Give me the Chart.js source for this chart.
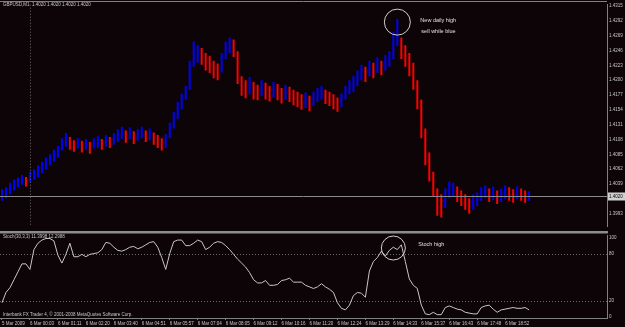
<!DOCTYPE html>
<html>
<head>
<meta charset="utf-8">
<script src="https://cdn.jsdelivr.net/npm/chart.js@4"></script>
<style>
  body { margin: 0; background: #0c0406; }
  #wrap { position: relative; width: 625px; height: 327px; }
  canvas { position: absolute; left: 0; }
</style>
</head>
<body>
<div id="wrap">
  <canvas id="precio" width="625" height="231" style="top:0"></canvas>
  <canvas id="stoch" width="625" height="96" style="top:231px"></canvas>
</div>
<script>
// etiquetas del eje de tiempo (una cada 7 barras)
const horas = ['5 Mar 2009', '6 Mar 00:03', '6 Mar 01:11', '6 Mar 02:20', '6 Mar 03:40', '6 Mar 04:51',
  '6 Mar 05:57', '6 Mar 07:04', '6 Mar 08:05', '6 Mar 09:12', '6 Mar 10:16', '6 Mar 11:20',
  '6 Mar 12:24', '6 Mar 13:29', '6 Mar 14:33', '6 Mar 15:37', '6 Mar 16:43', '6 Mar 17:48', '6 Mar 18:52'];

// maximos y minimos de cada barra
const altos = [
  1.4031, 1.4034, 1.4041, 1.4046, 1.4049, 1.4053, 1.4050, 1.4058, 1.4062, 1.4068,
  1.4073, 1.4080, 1.4085, 1.4092, 1.4098, 1.4110, 1.4118, 1.4112, 1.4107, 1.4110,
  1.4106, 1.4109, 1.4104, 1.4110, 1.4113, 1.4109, 1.4115, 1.4112, 1.4118, 1.4124,
  1.4128, 1.4122, 1.4127, 1.4121, 1.4124, 1.4128, 1.4122, 1.4125, 1.4119, 1.4115,
  1.4110, 1.4116, 1.4134, 1.4151, 1.4166, 1.4179, 1.4191, 1.4230, 1.4260, 1.4254,
  1.4250, 1.4242, 1.4238, 1.4230, 1.4226, 1.4242, 1.4260, 1.4266, 1.4263, 1.4245,
  1.4206, 1.4200, 1.4205, 1.4197, 1.4193, 1.4200, 1.4196, 1.4191, 1.4197, 1.4194,
  1.4188, 1.4193, 1.4190, 1.4185, 1.4182, 1.4178, 1.4181, 1.4176, 1.4182, 1.4188,
  1.4191, 1.4185, 1.4182, 1.4178, 1.4173, 1.4179, 1.4191, 1.4200, 1.4206, 1.4215,
  1.4224, 1.4221, 1.4230, 1.4227, 1.4235, 1.4230, 1.4239, 1.4245, 1.4275, 1.4295,
  1.4266, 1.4254, 1.4242, 1.4227, 1.4200, 1.4170, 1.4125, 1.4088, 1.4058, 1.4032,
  1.4023, 1.4032, 1.4043, 1.4041, 1.4035, 1.4029, 1.4023, 1.4017, 1.4023, 1.4026,
  1.4034, 1.4037, 1.4032, 1.4035, 1.4029, 1.4032, 1.4037, 1.4034, 1.4031, 1.4035,
  1.4032, 1.4029, 1.4028
];
const bajos = [
  1.4013, 1.4017, 1.4023, 1.4029, 1.4034, 1.4038, 1.4035, 1.4041, 1.4046, 1.4050,
  1.4056, 1.4062, 1.4068, 1.4074, 1.4080, 1.4091, 1.4097, 1.4092, 1.4089, 1.4094,
  1.4088, 1.4092, 1.4086, 1.4094, 1.4095, 1.4092, 1.4097, 1.4095, 1.4100, 1.4104,
  1.4109, 1.4103, 1.4109, 1.4101, 1.4106, 1.4110, 1.4104, 1.4107, 1.4100, 1.4095,
  1.4091, 1.4095, 1.4110, 1.4125, 1.4140, 1.4155, 1.4170, 1.4185, 1.4221, 1.4227,
  1.4224, 1.4215, 1.4211, 1.4203, 1.4200, 1.4212, 1.4233, 1.4242, 1.4236, 1.4194,
  1.4176, 1.4172, 1.4178, 1.4170, 1.4169, 1.4175, 1.4170, 1.4167, 1.4173, 1.4169,
  1.4164, 1.4170, 1.4166, 1.4161, 1.4158, 1.4154, 1.4157, 1.4152, 1.4160, 1.4166,
  1.4170, 1.4163, 1.4160, 1.4155, 1.4151, 1.4158, 1.4170, 1.4178, 1.4182, 1.4191,
  1.4200, 1.4197, 1.4206, 1.4203, 1.4211, 1.4208, 1.4215, 1.4221, 1.4233, 1.4253,
  1.4233, 1.4221, 1.4206, 1.4185, 1.4155, 1.4110, 1.4068, 1.4043, 1.4020, 1.3990,
  1.3987, 1.4002, 1.4017, 1.4020, 1.4011, 1.4005, 1.3999, 1.3993, 1.3999, 1.4005,
  1.4013, 1.4017, 1.4011, 1.4014, 1.4008, 1.4011, 1.4016, 1.4013, 1.4010, 1.4016,
  1.4013, 1.4010, 1.4013
];

// estocastico %K
const stochK = [
  18, 31, 37, 47, 57, 67, 67, 60, 85, 93,
  97, 99, 99, 96, 78, 68, 79, 93, 76, 76,
  79, 76, 79, 80, 81, 85, 94, 93, 88, 84,
  83, 85, 88, 89, 86, 88, 91, 94, 95, 88,
  75, 60, 80, 95, 97, 97, 90, 90, 93, 97,
  95, 85, 88, 93, 95, 94, 90, 85, 79, 73,
  68, 63, 56, 47, 43, 43, 46, 40, 40, 41,
  46, 47, 49, 44, 44, 44, 40, 38, 36, 38,
  42, 38, 35, 31, 18, 11, 9, 15, 27, 31,
  30, 25, 58, 70, 75, 83, 77, 84, 88, 85,
  91, 70, 48, 40, 36, 15, 4, 3, 6, 3,
  3, 12, 14, 12, 10, 9, 6, 5, 4, 4,
  12, 14, 15, 10, 6, 9, 10, 11, 12, 11,
  11, 12, 9
];

const precioTicks = [1.4315, 1.4292, 1.4269, 1.4246, 1.4223, 1.4200, 1.4177, 1.4154,
  1.4131, 1.4108, 1.4085, 1.4062, 1.4039, 1.4016, 1.3993];
const stochTicks = [0, 20, 80, 100];
const nivelesStoch = [20, 80];
const ultimoPrecio = 1.4020;
const totalBarras = 152; // con hueco a la derecha

const gris = '#808080';
const texto = '#c8c8c8';
const fuente = '"Liberation Sans", Arial, sans-serif';

const etiquetas = Array.from({ length: totalBarras }, (_, i) =>
  (i % 7 === 0 && horas[i / 7]) ? horas[i / 7] : '');

function colorBarra(i) {
  if (i === 0) return '#0000ff';
  const medio = (altos[i] + bajos[i]) / 2;
  const previo = (altos[i - 1] + bajos[i - 1]) / 2;
  return medio >= previo ? '#0000ff' : '#ff0000';
}

const extrasPrecio = {
  id: 'extrasPrecio',
  afterDatasetsDraw(chart) {
    const { ctx, chartArea: a, scales: { x, y } } = chart;
    ctx.save();
    ctx.strokeStyle = gris;
    ctx.lineWidth = 1;
    ctx.beginPath(); ctx.moveTo(0, 1.5); ctx.lineTo(a.right, 1.5); ctx.stroke();

    // separador de dia
    const xd = Math.round(x.getPixelForValue(7)) + 0.5;
    ctx.setLineDash([1, 2]);
    ctx.strokeStyle = '#6a6a6a';
    ctx.beginPath(); ctx.moveTo(xd, a.top); ctx.lineTo(xd, a.bottom); ctx.stroke();
    ctx.setLineDash([]);

    // linea del precio actual
    const yp = Math.round(y.getPixelForValue(ultimoPrecio)) + 0.5;
    ctx.strokeStyle = '#8a8a8a';
    ctx.beginPath(); ctx.moveTo(a.left, yp); ctx.lineTo(a.right, yp); ctx.stroke();
    ctx.fillStyle = '#d0d0d0';
    ctx.fillRect(a.right + 1, yp - 4, 17, 8);
    ctx.fillStyle = '#000';
    ctx.font = '4.5px ' + fuente;
    ctx.textBaseline = 'middle';
    ctx.fillText(ultimoPrecio.toFixed(4), a.right + 2, yp);

    // encabezado
    const p = ultimoPrecio.toFixed(4);
    ctx.fillStyle = texto;
    ctx.textBaseline = 'top';
    ctx.fillText('GBPUSD,M1  ' + [p, p, p, p].join(' '), 3, 3);

    // nota
    const cx = x.getPixelForValue(99), cy = y.getPixelForValue(1.4290);
    ctx.strokeStyle = '#d8cccc';
    ctx.beginPath(); ctx.arc(cx, cy, 13, 0, Math.PI * 2); ctx.stroke();
    ctx.fillStyle = '#e0e0e0';
    ctx.font = '5.5px ' + fuente;
    ctx.textBaseline = 'middle';
    ctx.fillText('New daily high', cx + 23, cy - 2);
    ctx.fillText('sell while blue', cx + 24, cy + 9);
    ctx.restore();
  }
};

const extrasStoch = {
  id: 'extrasStoch',
  beforeDatasetsDraw(chart) {
    const { ctx, chartArea: a, scales: { y } } = chart;
    ctx.save();
    ctx.strokeStyle = '#6a6a6a';
    ctx.setLineDash([1, 2]);
    for (const n of nivelesStoch) {
      const yy = Math.round(y.getPixelForValue(n)) + 0.5;
      ctx.beginPath(); ctx.moveTo(a.left, yy); ctx.lineTo(a.right, yy); ctx.stroke();
    }
    ctx.restore();
  },
  afterDraw(chart) {
    const { ctx, chartArea: a, scales: { x, y } } = chart;
    ctx.save();
    ctx.fillStyle = '#8c8c8c';
    ctx.fillRect(0, 0, a.right + 1, 2.5);

    ctx.fillStyle = texto;
    ctx.font = '4.5px ' + fuente;
    ctx.textBaseline = 'top';
    ctx.fillText('Stoch(30,3,3) 11.3998 12.2988', 3, 4);
    ctx.textBaseline = 'bottom';
    ctx.fillText('Interbank FX Trader 4, \u00a9 2001-2008 MetaQuotes Software Corp.', 3, a.bottom - 1);

    const cx = x.getPixelForValue(98), cy = y.getPixelForValue(87);
    ctx.strokeStyle = '#d8cccc';
    ctx.lineWidth = 1;
    ctx.beginPath(); ctx.arc(cx, cy, 12, 0, Math.PI * 2); ctx.stroke();
    ctx.fillStyle = '#e0e0e0';
    ctx.font = '5.5px ' + fuente;
    ctx.textBaseline = 'middle';
    ctx.fillText('Stoch high', cx + 25, cy - 4);
    ctx.restore();
  }
};

const ejeY = (min, max, ticks, fmt) => ({
  position: 'right',
  min: min,
  max: max,
  afterBuildTicks: s => { s.ticks = ticks.map(v => ({ value: v })); },
  afterFit: s => { s.width = 18; },
  grid: { display: false, drawTicks: false },
  border: { color: gris },
  ticks: { color: texto, padding: 2, font: { size: 4.5, family: fuente }, callback: fmt }
});

new Chart(document.getElementById('precio'), {
  type: 'bar',
  data: {
    labels: etiquetas,
    datasets: [{
      data: altos.map((h, i) => [bajos[i], h]),
      backgroundColor: altos.map((h, i) => colorBarra(i)),
      barPercentage: 0.5,
      categoryPercentage: 1,
      borderWidth: 0
    }]
  },
  options: {
    responsive: false,
    animation: false,
    devicePixelRatio: 1,
    layout: { padding: { top: 2, left: 0, right: 0, bottom: 0 } },
    plugins: { legend: { display: false }, tooltip: { enabled: false } },
    scales: {
      x: { display: false, offset: true },
      y: ejeY(1.39735, 1.4317, precioTicks, v => v.toFixed(4))
    }
  },
  plugins: [extrasPrecio]
});

new Chart(document.getElementById('stoch'), {
  type: 'line',
  data: {
    labels: etiquetas,
    datasets: [{
      data: stochK,
      borderColor: '#c8c8c8',
      borderWidth: 1,
      pointRadius: 0,
      tension: 0
    }]
  },
  options: {
    responsive: false,
    animation: false,
    devicePixelRatio: 1,
    layout: { padding: { top: 3, left: 0, right: 0, bottom: 0 } },
    plugins: { legend: { display: false }, tooltip: { enabled: false } },
    scales: {
      x: {
        offset: true,
        afterFit: s => { s.height = 9; },
        grid: {
          offset: false,
          drawOnChartArea: false,
          drawTicks: true,
          tickLength: 2,
          color: c => etiquetas[c.index] ? gris : 'transparent'
        },
        border: { color: gris },
        ticks: {
          autoSkip: false, maxRotation: 0, align: 'start', padding: 1,
          color: texto, font: { size: 4.5, family: fuente }
        }
      },
      y: ejeY(-1.2, 102.5, stochTicks, v => String(v))
    }
  },
  plugins: [extrasStoch]
});
</script>
</body>
</html>
